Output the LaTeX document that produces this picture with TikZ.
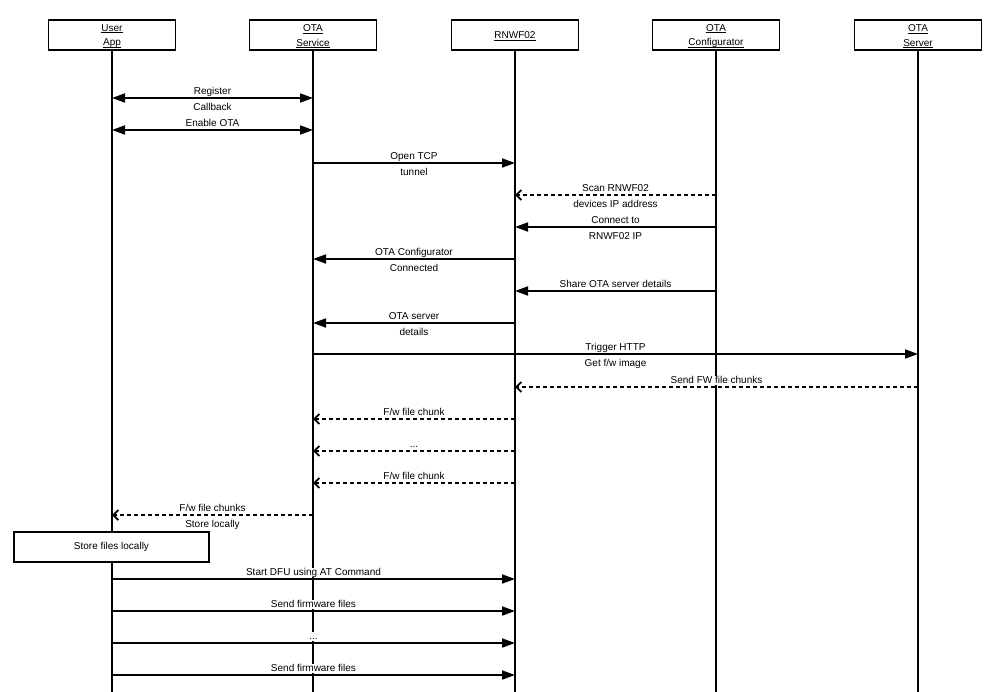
\documentclass[tikz,border=0pt]{standalone}
\usepackage{fontspec}
\setmainfont{Liberation Sans}
\usetikzlibrary{arrows.meta,positioning}
\newcommand{\ulbox}[1]{\leavevmode\setbox0\hbox{#1}\rlap{\rule[-1.8pt]{\wd0}{0.8pt}}\box0}

\begin{document}
\begin{tikzpicture}[x=1pt, y=-1pt,
    font=\fontsize{10}{14.5}\selectfont,
    actorBox/.style={draw, line width=1.5pt, fill=white, minimum width=127pt, minimum height=30pt, inner sep=0pt},
    actorText/.style={align=center, inner sep=0pt},
    noteBox/.style={draw, line width=1.5pt, fill=white, minimum width=195pt, minimum height=30pt, inner sep=0pt},
    lifeLine/.style={line width=1.5pt},
    call/.style={-{Triangle[length=13pt,width=9pt]}, line width=1.8pt},
    both/.style={{Triangle[length=13pt,width=9pt]}-{Triangle[length=13pt,width=9pt]}, line width=1.8pt},
    reply/.style={-{Straight Barb[length=5pt,width=10pt,line width=1.9pt]}, line width=1.6pt, dash pattern=on 4pt off 3pt},
    lbl/.style={fill=white, inner xsep=1pt, inner ysep=0pt, text height=7.5pt, text depth=2pt, font=\fontsize{10}{11}\selectfont}]

  \useasboundingbox (0,0) rectangle (998,692);

  % Participants
  \node[actorBox] (ua) at (112,35) {};
  \node[actorBox] (os) at (313,35) {};
  \node[actorBox] (rn) at (515,35) {};
  \node[actorBox] (oc) at (716,35) {};
  \node[actorBox] (sv) at (918,35) {};
  \node[actorText] (uaT) at ([yshift=-1.25pt]ua.center) {\ulbox{User}\\\ulbox{App}};
  \node[actorText] (osT) at ([yshift=-1.25pt]os.center) {\ulbox{OTA}\\\ulbox{Service}};
  \node[actorText] (rnT) at ([yshift=-1.25pt]rn.center) {\ulbox{RNWF02}};
  \node[actorText] (ocT) at ([yshift=-1.25pt]oc.center) {\ulbox{OTA}\\\ulbox{Configurator}};
  \node[actorText] (svT) at ([yshift=-1.25pt]sv.center) {\ulbox{OTA}\\\ulbox{Server}};

  % Lifelines
  \coordinate (bot) at (0,692);
  \draw[lifeLine] (ua.south) -- (ua |- bot);
  \draw[lifeLine] (os.south) -- (os |- bot);
  \draw[lifeLine] (rn.south) -- (rn |- bot);
  \draw[lifeLine] (oc.south) -- (oc |- bot);
  \draw[lifeLine] (sv.south) -- (sv |- bot);

  % Message rows
  \coordinate (m1) at (0,98);
  \coordinate (m2) at (0,130);
  \coordinate (m3) at (0,163);
  \coordinate (m4) at (0,195);
  \coordinate (m5) at (0,227);
  \coordinate (m6) at (0,259);
  \coordinate (m7) at (0,291);
  \coordinate (m8) at (0,323);
  \coordinate (m9) at (0,354);
  \coordinate (m10) at (0,387);
  \coordinate (m11) at (0,419);
  \coordinate (m12) at (0,451);
  \coordinate (m13) at (0,483);
  \coordinate (m14) at (0,515);
  \coordinate (m15) at (0,579);
  \coordinate (m16) at (0,611);
  \coordinate (m17) at (0,643);
  \coordinate (m18) at (0,675);

  % Registration
  \draw[both] (ua |- m1) -- (os |- m1)
    node[lbl, midway, above=1pt] {Register}
    node[lbl, midway, below=4.5pt] {Callback};
  \draw[both] (ua |- m2) -- (os |- m2)
    node[lbl, midway, above=1pt] {Enable OTA};
  \draw[call] (os |- m3) -- (rn |- m3)
    node[lbl, midway, above=1pt] {Open TCP}
    node[lbl, midway, below=4.5pt] {tunnel};

  % Configurator
  \draw[reply] (oc |- m4) -- (rn |- m4)
    node[lbl, midway, above=1pt] {Scan RNWF02}
    node[lbl, midway, below=4.5pt] {devices IP address};
  \draw[call] (oc |- m5) -- (rn |- m5)
    node[lbl, midway, above=1pt] {Connect to}
    node[lbl, midway, below=4.5pt] {RNWF02 IP};
  \draw[call] (rn |- m6) -- (os |- m6)
    node[lbl, midway, above=1pt] {OTA Configurator}
    node[lbl, midway, below=4.5pt] {Connected};
  \draw[call] (oc |- m7) -- (rn |- m7)
    node[lbl, midway, above=1pt] {Share OTA server details};
  \draw[call] (rn |- m8) -- (os |- m8)
    node[lbl, midway, above=1pt] {OTA server}
    node[lbl, midway, below=4.5pt] {details};

  % Download
  \draw[call] (os |- m9) -- (sv |- m9)
    node[lbl, midway, above=1pt] {Trigger HTTP}
    node[lbl, midway, below=4.5pt] {Get f/w image};
  \draw[reply] (sv |- m10) -- (rn |- m10)
    node[lbl, midway, above=1pt] {Send FW file chunks};
  \draw[reply] (rn |- m11) -- (os |- m11)
    node[lbl, midway, above=1pt] {F/w file chunk};
  \draw[reply] (rn |- m12) -- (os |- m12)
    node[lbl, midway, above=1pt] {...};
  \draw[reply] (rn |- m13) -- (os |- m13)
    node[lbl, midway, above=1pt] {F/w file chunk};
  \draw[reply] (os |- m14) -- (ua |- m14)
    node[lbl, midway, above=1pt] {F/w file chunks}
    node[lbl, midway, below=4.5pt] {Store locally};

  \node[noteBox] (store) at (111.5,547) {Store files locally};

  % DFU
  \draw[call] (ua |- m15) -- (rn |- m15)
    node[lbl, midway, above=1pt] {Start DFU using AT Command};
  \draw[call] (ua |- m16) -- (rn |- m16)
    node[lbl, midway, above=1pt] {Send firmware files};
  \draw[call] (ua |- m17) -- (rn |- m17)
    node[lbl, midway, above=1pt] {...};
  \draw[call] (ua |- m18) -- (rn |- m18)
    node[lbl, midway, above=1pt] {Send firmware files};

\end{tikzpicture}
\end{document}
